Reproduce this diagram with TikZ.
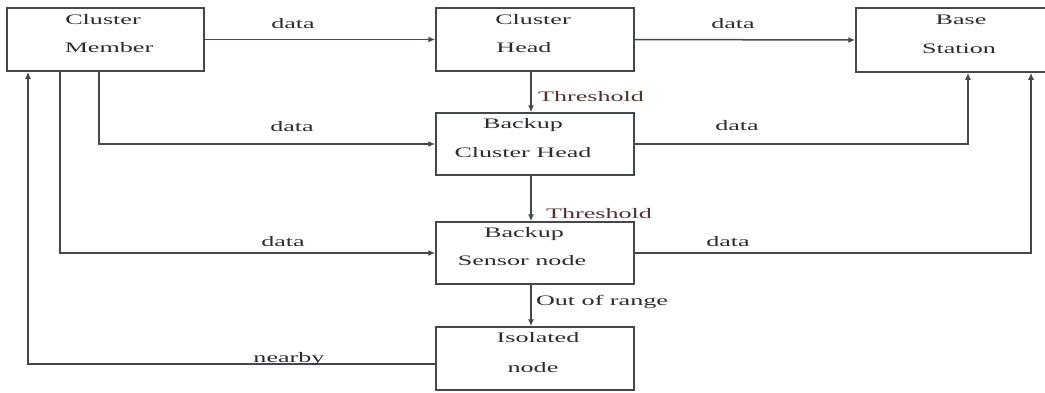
\documentclass[tikz,border=0pt]{standalone}
\usepackage{fontspec}
\setmainfont{Liberation Serif}
\usepackage{graphicx}
\usetikzlibrary{arrows.meta,calc}
\definecolor{ln}{HTML}{45474E}
\definecolor{tx}{HTML}{2E2B2D}
\definecolor{txr}{HTML}{4F3434}
\newcommand{\widetxt}[1]{\scalebox{1.8}[1]{#1}}
\tikzset{
  box/.style={draw=ln, line width=1.5pt, inner sep=0pt, fill=white},
  lbl/.style={text=tx, inner sep=0pt, font=\fontsize{14.5pt}{14.5pt}\selectfont},
  lblr/.style={text=txr, inner sep=0pt, font=\fontsize{14.5pt}{14.5pt}\selectfont},
  conn/.style={draw=ln, line width=1.5pt},
  arr/.style={conn, -{Latex[length=7pt,width=6pt]}},
}
\begin{document}
\begin{tikzpicture}[x=1pt,y=-1pt]
\useasboundingbox (0,0) rectangle (1045,392);
\clip (0,0) rectangle (1045,392);
\fill[white] (0,0) rectangle (1045,392);
% helper x positions
\coordinate (x28) at (28,0);
\coordinate (x60) at (60,0);
\coordinate (x99) at (99,0);
\coordinate (x531) at (531,0);
\coordinate (x968) at (968,0);
\coordinate (x1031) at (1031,0);
\coordinate (y364) at (0,364);
% boxes
\node[box, minimum width=197pt, minimum height=63pt] (cm)  at (105.5,39.5) {};
\node[box, minimum width=198pt, minimum height=63pt] (ch)  at (535,39.5) {};
\node[box, minimum width=194pt, minimum height=64pt] (bs)  at (953,40) {};
\node[box, minimum width=198pt, minimum height=62pt] (bch) at (535,144) {};
\node[box, minimum width=198pt, minimum height=62pt] (bsn) at (535,253) {};
\node[box, minimum width=198pt, minimum height=63pt] (iso) at (535,358.5) {};
% box texts
\node[lbl] (t1) at (103,20) {\widetxt{Cluster}};
\node[lbl] (t2) at (109,48) {\widetxt{Member}};
\node[lbl] (t3) at (533,20) {\widetxt{Cluster}};
\node[lbl] (t4) at (524,48) {\widetxt{Head}};
\node[lbl] (t5) at (961,20) {\widetxt{Base}};
\node[lbl] (t6) at (959,49) {\widetxt{Station}};
\node[lbl] (t7) at (523,125) {\widetxt{Backup}};
\node[lbl] (t8) at (523,153) {\widetxt{Cluster Head}};
\node[lbl] (t9) at (524,234) {\widetxt{Backup}};
\node[lbl] (t10) at (522,261) {\widetxt{Sensor node}};
\node[lbl] (t11) at (538,338) {\widetxt{Isolated}};
\node[lbl] (t12) at (533,368) {\widetxt{node}};
% connectors
\draw[arr] (cm.east) -- (ch.west);
\draw[arr] (ch.east) -- (bs.west);
\draw[arr] (ch.south -| x531) -- (bch.north -| x531);
\draw[arr] (bch.south -| x531) -- (bsn.north -| x531);
\draw[arr] (bsn.south -| x531) -- (iso.north -| x531);
\draw[arr] (cm.south -| x99) |- (bch.west);
\draw[arr] (cm.south -| x60) |- (bsn.west);
\draw[arr] (iso.west |- y364) -| (cm.south -| x28);
\draw[arr] (bch.east) -| (bs.south -| x968);
\draw[arr] (bsn.east) -| (bs.south -| x1031);
% connector labels
\node[lbl] (l1) at (293,24) {\widetxt{data}};
\node[lbl] (l2) at (733,24) {\widetxt{data}};
\node[lblr] (l3) at (591,97) {\widetxt{Threshold}};
\node[lbl] (l4) at (292,127) {\widetxt{data}};
\node[lbl] (l5) at (737,126) {\widetxt{data}};
\node[lblr] (l6) at (599,214) {\widetxt{Threshold}};
\node[lbl] (l7) at (283,242) {\widetxt{data}};
\node[lbl] (l8) at (728,242) {\widetxt{data}};
\node[lbl] (l9) at (602,302) {\widetxt{Out of range}};
\node[lbl] (l10) at (289,359) {\widetxt{nearby}};
\end{tikzpicture}
\end{document}
